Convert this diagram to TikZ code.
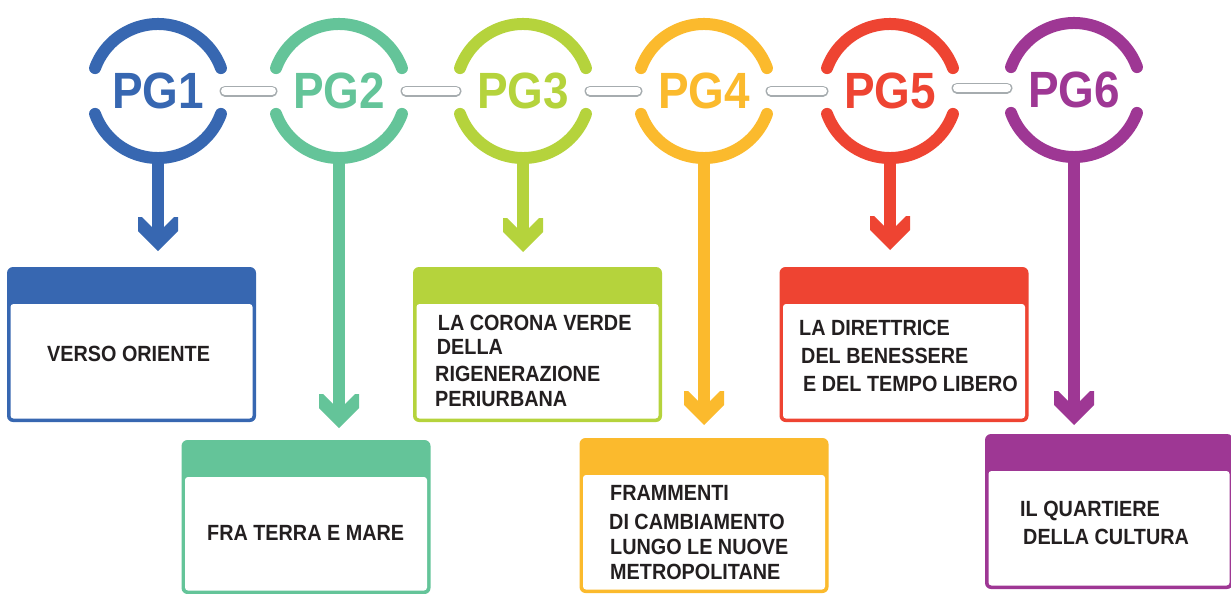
\documentclass[tikz,border=0pt]{standalone}
\usepackage{fontspec}
\setmainfont[FakeStretch=0.9]{Liberation Sans}
\usetikzlibrary{calc}
\definecolor{cblue}{HTML}{3767B1}
\definecolor{cgreen}{HTML}{64C499}
\definecolor{clime}{HTML}{B5D33C}
\definecolor{cyellow}{HTML}{FBBA2D}
\definecolor{cred}{HTML}{EE4432}
\definecolor{cpurple}{HTML}{9E3794}
\definecolor{cgray}{HTML}{A6ACAF}
\definecolor{ctext}{HTML}{231F20}
\begin{document}
\begin{tikzpicture}[x=1pt,y=-1pt,
  ring/.style={line width=12pt, line cap=round, draw=#1},
  stem/.style={line width=11.5pt, draw=#1, shorten >=10pt},
  pill/.style={draw=cgray, line width=1.5pt, double=white, double distance=8pt, line cap=round},
  pg/.style={circle, minimum size=134pt, inner sep=0pt, outer sep=0pt, text=#1,
    font=\fontsize{51}{56}\selectfont\bfseries},
  box/.style={rectangle, rounded corners=6pt, fill=#1, minimum width=249pt, minimum height=155pt,
    inner sep=0pt, outer sep=0pt,
    path picture={\fill[white, rounded corners=3pt]
      ([xshift=3.5pt,yshift=3.5pt]path picture bounding box.south west) rectangle
      ([xshift=-3.5pt,yshift=-37pt]path picture bounding box.north east);}},
  txt/.style={anchor=base west, inner sep=0pt, text=ctext, font=\fontsize{22}{26}\selectfont\bfseries},
  ahead/.pic={\fill[#1] (0,0) -- (-20,-20) -- (-20,-34) -- (-16,-34) -- (-5.75,-23.75) -- (-5.75,-36)
     -- (5.75,-36) -- (5.75,-23.75) -- (16,-34) -- (20,-34) -- (20,-20) -- cycle;}
]
\useasboundingbox (0,0) rectangle (1231,594);

% circles
\node[pg=cblue] (c1) at (158,91) {PG1};
\node[pg=cgreen] (c2) at (339,91) {PG2};
\node[pg=clime] (c3) at (523,91) {PG3};
\node[pg=cyellow] (c4) at (704,91) {PG4};
\node[pg=cred] (c5) at (890,91) {PG5};
\node[pg=cpurple] (c6) at (1074,90) {PG6};

\foreach \n/\c in {c1/cblue,c2/cgreen,c3/clime,c4/cyellow,c5/cred,c6/cpurple}{
  \draw[ring=\c] (\n.center) ++(20:67) arc[start angle=20,end angle=160,radius=67];
  \draw[ring=\c] (\n.center) ++(200:67) arc[start angle=200,end angle=340,radius=67];
}

% links
\draw[pill] (c1.east) -- (c2.west);
\draw[pill] (c2.east) -- (c3.west);
\draw[pill] (c3.east) -- (c4.west);
\draw[pill] (c4.east) -- (c5.west);
\draw[pill] ([yshift=3pt]c5.east) -- ([yshift=2pt]c6.west);

% boxes
\node[box=cblue] (b1) at (131.5,344.5) {};
\node[box=cgreen, minimum height=154pt] (b2) at (306,517) {};
\node[box=clime] (b3) at (537.5,344.5) {};
\node[box=cyellow] (b4) at (704,515.5) {};
\node[box=cred] (b5) at (904,344.5) {};
\node[box=cpurple, minimum width=248pt] (b6) at (1109,511.5) {};

% arrow tips
\coordinate (t1) at ($(c1.south |- b1.north)+(0,-16)$);
\coordinate (t2) at ($(c2.south |- b2.north)+(0,-12)$);
\coordinate (t3) at ($(c3.south |- b3.north)+(0,-15)$);
\coordinate (t4) at ($(c4.south |- b4.north)+(0,-13)$);
\coordinate (t5) at ($(c5.south |- b5.north)+(0,-17)$);
\coordinate (t6) at ($(c6.south |- b6.north)+(0,-9)$);

\draw[stem=cblue] (c1.south) -- (t1); \pic at (t1) {ahead=cblue};
\draw[stem=cgreen] (c2.south) -- (t2); \pic at (t2) {ahead=cgreen};
\draw[stem=clime] (c3.south) -- (t3); \pic at (t3) {ahead=clime};
\draw[stem=cyellow] (c4.south) -- (t4); \pic at (t4) {ahead=cyellow};
\draw[stem=cred] (c5.south) -- (t5); \pic at (t5) {ahead=cred};
\draw[stem=cpurple] (c6.south) -- (t6); \pic at (t6) {ahead=cpurple};

% texts
\node[txt] (l1) at (47,361) {VERSO ORIENTE};
\node[txt] (l2) at (207,540) {FRA TERRA E MARE};
\node[txt] (l3a) at (437.7,330) {LA CORONA VERDE};
\node[txt] (l3b) at (436.7,354) {DELLA};
\node[txt] (l3c) at (435,381.7) {RIGENERAZIONE};
\node[txt] (l3d) at (435,406.7) {PERIURBANA};
\node[txt] (l4a) at (610,500) {FRAMMENTI};
\node[txt] (l4b) at (609,529.3) {DI CAMBIAMENTO};
\node[txt] (l4c) at (610,554.3) {LUNGO LE NUOVE};
\node[txt] (l4d) at (610,579.3) {METROPOLITANE};
\node[txt] (l5a) at (799,335) {LA DIRETTRICE};
\node[txt] (l5b) at (801,363.5) {DEL BENESSERE};
\node[txt] (l5c) at (803,391.5) {E DEL TEMPO LIBERO};
\node[txt] (l6a) at (1020,516.7) {IL QUARTIERE};
\node[txt] (l6b) at (1023,544) {DELLA CULTURA};
\end{tikzpicture}
\end{document}
